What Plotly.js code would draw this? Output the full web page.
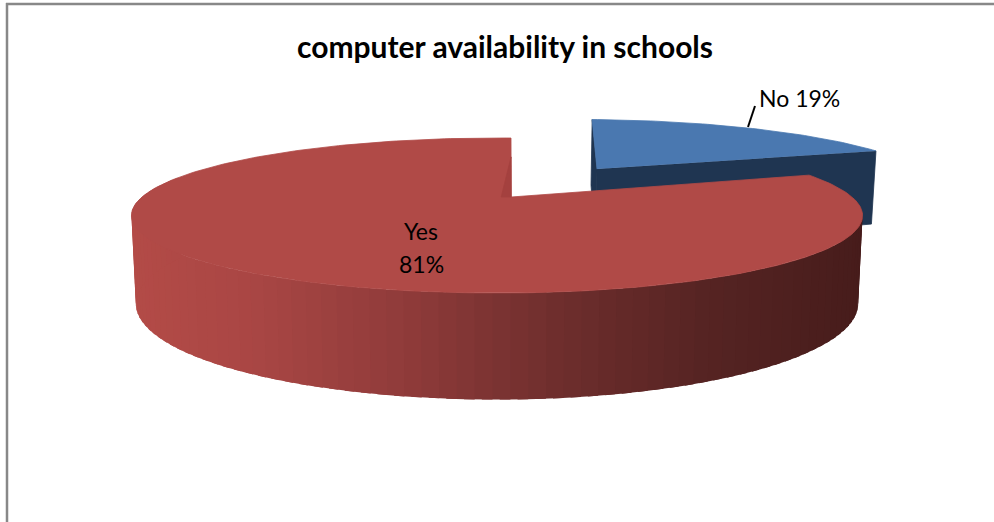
<!DOCTYPE html>
<html>
<head>
<meta charset="utf-8">
<script src="https://cdn.plot.ly/plotly-3.0.1.min.js"></script>
<style>html,body{margin:0;padding:0;background:#fff}#chart{width:994px;height:522px}</style>
</head>
<body>
<div id="chart"></div>
<script>
// Chart content
const chartTitle = 'computer availability in schools';
const categories = ['No', 'Yes'];
const shares = [19, 81];

// Sheet colours
const noTop = '#4a78b0', noSide = '#1f3551';
const yesTop = '#b04a47', yesInner = '#a4413f';
const yesSideStops = [[131,[179,75,71]],[250,[169,70,68]],[400,[143,59,58]],[550,[111,46,45]],[700,[86,36,35]],[860,[71,28,27]]];

// Tilted-disc view: a perspective ellipse plus a depth drop for the lower face
const view = {cx: 497, cy: 197, rx: 355, ry: 73.1, persp: 0.2387, shrink: 0.988, dropA: 12, dropB: 72};
const firstAngle = 2.8;
const noCentre = {x: 0.31, z: -0.42}, yesCentre = {x: 0, z: 0}, yesApex = {x: 0.04, z: 0};

function upper(X, Z) {
  const s = 1 / (1 - view.persp * Z);
  return [view.cx + view.rx * X * s, view.cy + view.ry * Z * s];
}
function lower(X, Z) {
  const s = 1 / (1 - view.persp * Z);
  const p = upper(X, Z);
  return [view.cx + (p[0] - view.cx) * view.shrink, p[1] + view.dropA + view.dropB * s];
}
function rimWorld(c, deg) {
  const a = deg * Math.PI / 180;
  return [c.x + Math.sin(a), c.z - Math.cos(a)];
}
function rim(c, from, to, n, fn) {
  const out = [];
  for (let i = 0; i <= n; i++) {
    const w = rimWorld(c, from + (to - from) * i / n);
    out.push(fn(w[0], w[1]));
  }
  return out;
}
function poly(points, color, edge) {
  return {
    type: 'scatter', mode: 'lines', fill: 'toself', fillcolor: color,
    x: points.map(p => p[0]), y: points.map(p => p[1]),
    line: {color: color, width: edge}, hoverinfo: 'skip', showlegend: false
  };
}
function sideColour(x) {
  const st = yesSideStops;
  if (x <= st[0][0]) return 'rgb(' + st[0][1].join(',') + ')';
  for (let i = 1; i < st.length; i++) {
    if (x <= st[i][0]) {
      const t = (x - st[i-1][0]) / (st[i][0] - st[i-1][0]);
      return 'rgb(' + st[i][1].map((v, k) => Math.round(st[i-1][1][k] + (v - st[i-1][1][k]) * t)).join(',') + ')';
    }
  }
  return 'rgb(' + st[st.length-1][1].join(',') + ')';
}

const total = shares[0] + shares[1];
const noEnd = firstAngle + 360 * shares[0] / total;
const yesEnd = noEnd + 360 * shares[1] / total;
const traces = [];

// Detached "No" wedge: walls first, then its top face
const noApexTop = upper(noCentre.x, noCentre.z), noApexLow = lower(noCentre.x, noCentre.z);
const wStart = rimWorld(noCentre, firstAngle), wEnd = rimWorld(noCentre, noEnd);
traces.push(poly([noApexTop, upper(wStart[0], wStart[1]), lower(wStart[0], wStart[1]), noApexLow, noApexTop], noSide, 0.8));
traces.push(poly([noApexTop, upper(wEnd[0], wEnd[1]), lower(wEnd[0], wEnd[1]), noApexLow, noApexTop], noSide, 0.8));
traces.push(poly([noApexTop].concat(rim(noCentre, firstAngle, noEnd, 60, upper)), noTop, 0.8));

// "Yes" slice: shaded front wall built from overlapping strips
const wallFrom = 85, wallTo = 285, strips = 90;
for (let i = 0; i < strips; i++) {
  const a0 = wallFrom + (wallTo - wallFrom) * i / strips;
  const a1 = wallFrom + (wallTo - wallFrom) * (i + 1.6) / strips;
  const p0 = rimWorld(yesCentre, a0), p1 = rimWorld(yesCentre, a1);
  const q = [upper(p0[0], p0[1]), upper(p1[0], p1[1]), lower(p1[0], p1[1]), lower(p0[0], p0[1])];
  traces.push(poly(q.concat([q[0]]), sideColour((q[0][0] + q[1][0]) / 2), 0));
}

// "Yes" top face and the sliver of inner wall at its back edge
const yesApexPt = upper(yesApex.x, yesApex.z);
traces.push(poly([yesApexPt].concat(rim(yesCentre, noEnd, yesEnd, 240, upper)).concat([yesApexPt]), yesTop, 0.8));
const backCorner = upper.apply(null, rimWorld(yesCentre, firstAngle));
traces.push(poly([
  yesApexPt,
  [yesApexPt[0] + (backCorner[0] - yesApexPt[0]) * 0.68, yesApexPt[1] + (backCorner[1] - yesApexPt[1]) * 0.68],
  [yesApexPt[0] - 10, yesApexPt[1]],
  yesApexPt
], yesInner, 0.8));

// Leader from the "No" label to the wedge rim
traces.push({
  type: 'scatter', mode: 'lines', x: [755, 748], y: [106, 127],
  line: {color: '#000', width: 2}, hoverinfo: 'skip', showlegend: false
});

const labelFont = {family: 'Lato, "Open Sans", sans-serif', size: 23, color: '#000'};
const layout = {
  width: 994, height: 522,
  margin: {l: 0, r: 0, t: 0, b: 0},
  paper_bgcolor: '#fff', plot_bgcolor: '#fff',
  showlegend: false,
  xaxis: {range: [0, 994], visible: false, fixedrange: true},
  yaxis: {range: [522, 0], visible: false, fixedrange: true},
  title: {
    text: '<b>' + chartTitle + '</b>',
    x: 505 / 994, xanchor: 'center', y: 1 - 47 / 522, yanchor: 'middle',
    font: {family: 'Lato, "Open Sans", sans-serif', size: 30, color: '#000'}
  },
  annotations: [
    {x: 799, y: 98, xref: 'x', yref: 'y', showarrow: false, text: categories[0] + ' ' + shares[0] + '%', font: labelFont},
    {x: 421, y: 231, xref: 'x', yref: 'y', showarrow: false, text: categories[1], font: labelFont},
    {x: 421, y: 264, xref: 'x', yref: 'y', showarrow: false, text: shares[1] + '%', font: labelFont}
  ],
  shapes: [
    {type: 'line', xref: 'x', yref: 'y', x0: 6, x1: 994, y0: 4, y1: 4, line: {color: '#888', width: 2.5}},
    {type: 'line', xref: 'x', yref: 'y', x0: 7, x1: 7, y0: 3, y1: 522, line: {color: '#888', width: 2.5}}
  ]
};
Plotly.newPlot('chart', traces, layout, {displayModeBar: false, staticPlot: true});
</script>
</body>
</html>
